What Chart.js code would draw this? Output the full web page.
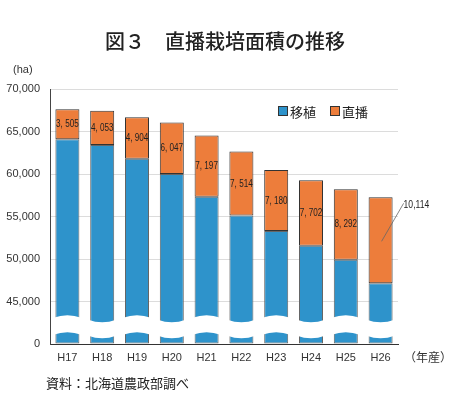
<!DOCTYPE html>
<html><head><meta charset="utf-8">
<script src="https://cdn.jsdelivr.net/npm/chart.js@4"></script>
<style>
html,body{margin:0;padding:0;background:#fff;}
#wrap{position:relative;width:450px;height:393px;overflow:hidden;font-family:"Noto Sans CJK JP",sans-serif;color:#222;}
.t{position:absolute;white-space:nowrap;line-height:1;}
#title{left:0;width:450px;text-align:center;top:31px;font-size:20px;font-weight:500;}
#ha{left:13px;top:64px;font-size:11px;font-family:"Liberation Sans","Noto Sans CJK JP",sans-serif;color:#333;}
#nen{left:404px;top:351px;font-size:12px;color:#333;}
#src{left:46px;top:376px;font-size:13px;}
#legend{left:278px;top:105px;font-size:13px;color:#222;}
#legend span.sq{display:inline-block;width:8px;height:8px;border:1px solid #333;vertical-align:1px;margin-right:2px;}
#legend span.item{margin-right:14px;}
</style></head>
<body><div id="wrap">
<canvas id="c" width="450" height="393"></canvas>
<div class="t" id="title">図３　直播栽培面積の推移</div>
<div class="t" id="ha">(ha)</div>
<div class="t" id="nen">（年産）</div>
<div class="t" id="src">資料：北海道農政部調べ</div>
<div class="t" id="legend"></div>
</div>
<script>
const categories = ['H17','H18','H19','H20','H21','H22','H23','H24','H25','H26'];
const seriesNames = ['移植','直播'];
const transplant = [64100, 63400, 61780, 60000, 57320, 55126, 53290, 51560, 49920, 47140];
const directSeeding = [3505, 4053, 4904, 6047, 7197, 7514, 7180, 7702, 8292, 10114];
const yTickValues = [0, 45000, 50000, 55000, 60000, 65000, 70000];
const BREAK_BASE = 40000; // values below this are collapsed by the axis break
const colors = ['#2E93CB', '#ED7D3B'];

document.getElementById('legend').innerHTML = seriesNames.map((n,i)=>
  `<span class="item"><span class="sq" style="background:${colors[i]}"></span>${n}</span>`).join('');

const toAxis = v => v - BREAK_BASE;
const fmtSpaced = v => v.toLocaleString('en-US').replace(',', ', ');

const breakPlugin = {
  id: 'breakWave',
  afterDatasetsDraw(chart) {
    const y = chart.scales.y;
    const ctx = chart.ctx;
    const meta = chart.getDatasetMeta(0);
    ctx.save();
    ctx.fillStyle = '#fff';
    meta.data.forEach((el, i) => {
      const even = i % 2 === 0;
      const top = y.getPixelForValue(even ? 3090 : 2850);
      const bot = y.getPixelForValue(even ? 1090 : 975);
      const s = even ? -1 : 1;
      const a = 2.5;
      const l = el.x - el.width/2 - 2, r = el.x + el.width/2 + 2;
      ctx.beginPath();
      ctx.moveTo(l, top);
      ctx.quadraticCurveTo(el.x, top + s*2*a, r, top);
      ctx.lineTo(r, bot);
      ctx.quadraticCurveTo(el.x, bot + s*2*a, l, bot);
      ctx.closePath();
      ctx.fill();
    });
    ctx.restore();
  }
};

function condensedText(ctx, text, x, y, sx) {
  ctx.save();
  ctx.translate(x, y);
  ctx.scale(sx, 1);
  ctx.fillText(text, 0, 0);
  ctx.restore();
}

const labelPlugin = {
  id: 'segLabels',
  afterDatasetsDraw(chart) {
    const ctx = chart.ctx;
    const meta = chart.getDatasetMeta(1);
    const data = chart.data.datasets[1].data;
    ctx.save();
    ctx.fillStyle = '#222';
    ctx.font = '11px "Liberation Sans",sans-serif';
    ctx.textBaseline = 'middle';
    meta.data.forEach((el, i) => {
      const cy = (el.y + el.base) / 2;
      if (i === meta.data.length - 1) {
        ctx.strokeStyle = '#666';
        ctx.lineWidth = 0.8;
        ctx.beginPath();
        ctx.moveTo(el.x + 1, cy + 1);
        ctx.lineTo(el.x + 23, cy - 37);
        ctx.stroke();
        ctx.textAlign = 'left';
        condensedText(ctx, data[i].toLocaleString('en-US'), el.x + 23, cy - 35, 0.78);
      } else {
        ctx.textAlign = 'center';
        condensedText(ctx, fmtSpaced(data[i]), el.x, cy, 0.74);
      }
    });
    ctx.restore();
  }
};

new Chart(document.getElementById('c'), {
  type: 'bar',
  data: {
    labels: categories,
    datasets: [
      { label: seriesNames[0], data: transplant.map(toAxis), backgroundColor: colors[0],
        borderColor: '#666', borderWidth: 1, borderSkipped: false,
        categoryPercentage: 1, barPercentage: 0.69 },
      { label: seriesNames[1], data: directSeeding, backgroundColor: colors[1],
        borderColor: '#333', borderWidth: 1, borderSkipped: false,
        categoryPercentage: 1, barPercentage: 0.69 }
    ]
  },
  options: {
    responsive: false,
    animation: false,
    devicePixelRatio: 1,
    layout: { padding: { top: 89, right: 52, left: 0, bottom: 0 } },
    plugins: { legend: { display: false }, tooltip: { enabled: false } },
    scales: {
      x: {
        stacked: true,
        grid: { display: false, drawTicks: false },
        border: { color: '#333', width: 1 },
        ticks: { color: '#333', padding: 7,
          font: { family: '"Liberation Sans",sans-serif', size: 11 } },
        afterFit(s) { s.height = 49; }
      },
      y: {
        stacked: true,
        min: 0, max: toAxis(yTickValues[yTickValues.length-1]),
        afterBuildTicks(s) {
          s.ticks = yTickValues.map(v => ({ value: v === 0 ? 0 : toAxis(v) }));
        },
        grid: { color: '#dcdcdc', drawTicks: false, lineWidth: 1 },
        border: { color: '#444', width: 1 },
        ticks: { color: '#333', padding: 10,
          font: { family: '"Liberation Sans",sans-serif', size: 11 },
          callback: v => v === 0 ? '0' : (v + BREAK_BASE).toLocaleString('en-US') },
        afterFit(s) { s.width = 50; }
      }
    }
  },
  plugins: [breakPlugin, labelPlugin]
});
</script>
</body></html>
